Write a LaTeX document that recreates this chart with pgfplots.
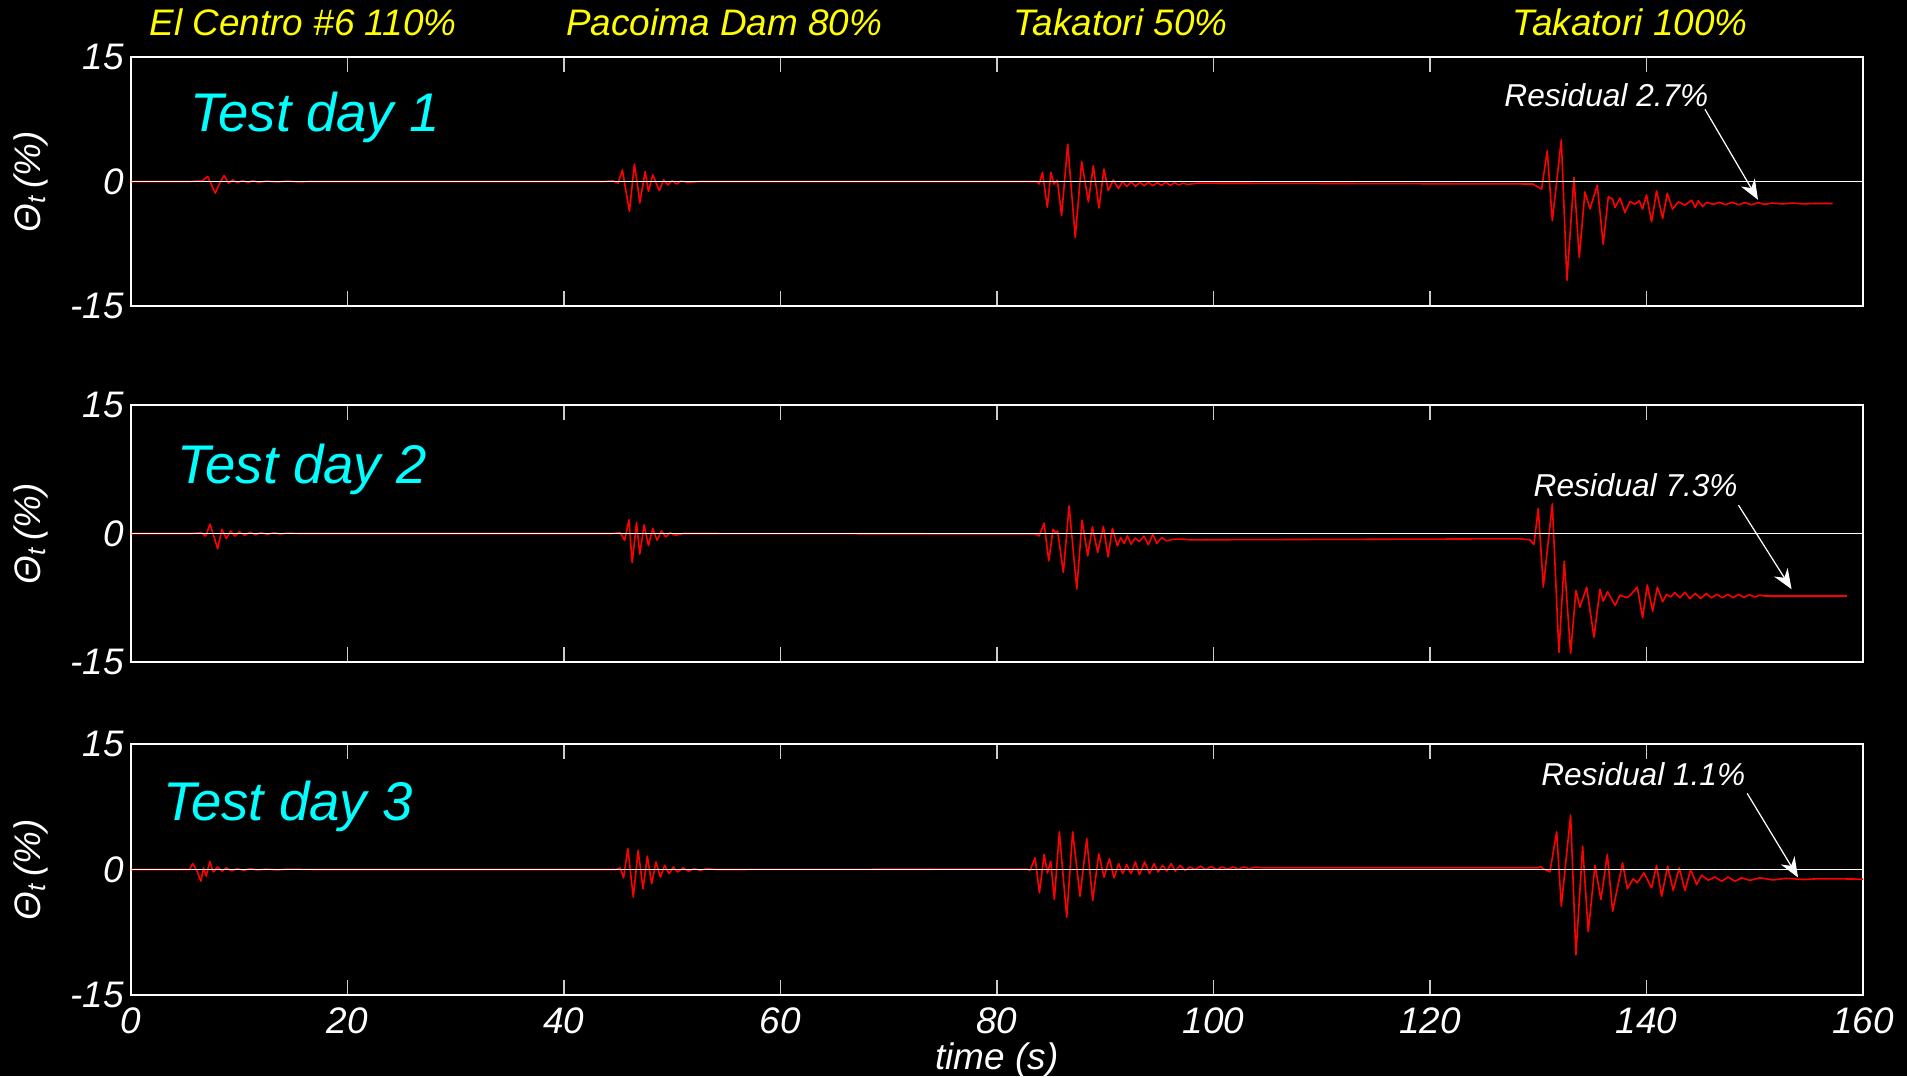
\documentclass[border=0pt]{standalone}
\usepackage{fontspec}
\setmainfont{Liberation Sans}
\usepackage{pgfplots}
\pgfplotsset{compat=1.18}
\usetikzlibrary{arrows.meta}
\definecolor{mcyan}{RGB}{0,255,255}
\definecolor{myellow}{RGB}{255,255,0}
\definecolor{mred}{RGB}{255,0,0}

\pgfplotsset{
  mystyle/.style={
    scale only axis, width=173.2mm,
    xmin=0, xmax=160, ymin=-15, ymax=15,
    axis line style={white, line width=0.5pt},
    xtick={0,20,40,60,80,100,120,140,160}, ytick={-15,0,15},
    yticklabels={-15,0,15},
    tick align=inside,
    tick style={white!80!black, line width=0.35pt},
    xtick style={/pgfplots/major tick length=1.5mm},
    ytick style={/pgfplots/major tick length=0.5mm},
    every tick label/.append style={font=\fontsize{10.5}{12}\selectfont\itshape, text=white},
    yticklabel style={xshift=0.5mm},
    ylabel={Θ\textsubscript{t}\,(\%)},
    ylabel style={at={(axis description cs:-0.058,0.5)}, anchor=center, font=\fontsize{10.5}{12}\selectfont\itshape, text=white},
    clip=false,
    anchor=south west,
  },
}
\tikzset{
  sig/.style={mred, line width=0.45pt, line join=round, sharp plot},
  zl/.style={white, line width=0.4pt},
  tday/.style={text=mcyan, font=\fontsize{15.5}{18}\selectfont\itshape, anchor=base west, inner sep=0pt},
  resid/.style={text=white, font=\fontsize{9}{11}\selectfont\itshape, anchor=base, inner sep=0pt},
  arr/.style={white, line width=0.35pt, -{Stealth[length=2mm, width=1.6mm]}},
  ttl/.style={text=myellow, font=\fontsize{10.5}{12}\selectfont\itshape},
}

\begin{document}
\begin{tikzpicture}
\useasboundingbox[fill=black] (0,0) rectangle (190.7mm,107.6mm);

% ---------------- Test day 1 ----------------
\begin{axis}[mystyle, at={(13.1mm,77.0mm)}, height=24.9mm, xticklabels={}]
\addplot[sig] coordinates {
(0,0)(5.4,0)(6.6,0.1)(7.08,0.6)(7.4,-0.3)(7.78,-1.4)(8.2,-0.2)(8.6,0.72)(9.0,-0.2)(9.4,0.2)(9.8,-0.15)(10.3,0.1)(10.8,-0.1)(11.3,0.1)(11.8,-0.1)(12.5,0.05)(13.5,-0.05)(14.5,0.05)(15.5,-0.05)(16.4,0)(43.8,0)(44.5,0.1)(45.0,-0.2)(45.4,1.4)(45.7,-1.0)(46.05,-3.6)(46.5,2.1)(46.8,-0.5)(47.0,-2.6)(47.5,1.2)(47.8,-1.2)(48.2,0.8)(48.8,-1.1)(49.2,0.2)(49.6,-0.4)(50.0,0.1)(50.4,-0.3)(50.8,0.05)(51.5,-0.1)(52.5,0)
(83.7,0)(83.9,-0.3)(84.2,1.1)(84.65,-3.1)(84.98,1.1)(85.26,-0.3)(85.57,0.15)(85.97,-4.1)(86.53,4.5)(87.23,-6.75)(87.82,2.4)(88.44,-2.45)(88.9,1.9)(89.42,-3.2)(89.88,1.5)(90.28,-1.1)(90.75,0.2)(91.21,-0.85)(91.6,0.0)(92.0,-0.6)(92.4,-0.05)(92.8,-0.6)(93.2,-0.1)(93.6,-0.5)(94.0,-0.1)(94.4,-0.5)(94.8,-0.15)(95.2,-0.45)(95.6,-0.1)(96.0,-0.45)(96.4,-0.15)(96.8,-0.4)(97.2,-0.2)(97.6,-0.35)(98.5,-0.2)(129.5,-0.3)
(130.31,-0.92)(130.83,3.7)(131.3,-4.74)(132.13,5.0)(132.65,-11.9)(133.3,0.48)(133.79,-9.16)(134.31,-1.25)(134.78,-3.3)(135.45,-0.44)(136.0,-7.55)(136.47,-1.85)(136.87,-2.13)(137.09,-3.13)(137.55,-2.0)(138.01,-3.74)(138.47,-2.41)(138.93,-2.73)(139.33,-2.33)(139.64,-3.33)(140.0,-1.61)(140.47,-4.86)(140.93,-1.12)(141.49,-4.46)(141.92,-1.41)(142.41,-3.33)(142.94,-2.45)(143.55,-2.85)(144.17,-2.25)(144.5,-3.13)(144.78,-2.33)(145.18,-3.0)(145.55,-2.53)(146.2,-2.75)(146.7,-2.5)(147.3,-2.8)(147.9,-2.5)(148.5,-2.8)(149.1,-2.55)(149.7,-2.8)(150.3,-2.55)(150.9,-2.75)(151.6,-2.6)(152.5,-2.7)(153.5,-2.6)(154.5,-2.7)(155.5,-2.65)(157.2,-2.65)
};
\addplot[zl] coordinates {(0,0)(160,0)};
\node[ttl] at (axis cs:15.9,19.2) {El Centro \#6 110\%};
\node[ttl] at (axis cs:54.8,19.2) {Pacoima Dam 80\%};
\node[ttl] at (axis cs:91.4,19.2) {Takatori 50\%};
\node[ttl] at (axis cs:138.5,19.2) {Takatori 100\%};
\node[tday] at (axis cs:5.4,6.0) {Test day 1};
\node[resid] at (axis cs:136.3,9.0) {Residual 2.7\%};
\draw[arr] (axis cs:145.4,8.7) -- (axis cs:150.3,-2.2);
\end{axis}

% ---------------- Test day 2 ----------------
\begin{axis}[mystyle, at={(13.1mm,41.4mm)}, height=25.7mm, xticklabels={}]
\addplot[sig] coordinates {
(0,0)(5.6,0)(6.5,0.1)(6.9,-0.3)(7.3,1.1)(7.7,-0.5)(8.0,-1.8)(8.4,0.5)(8.8,-0.6)(9.2,0.3)(9.6,-0.3)(10.0,0.2)(10.5,-0.2)(11.0,0.15)(11.5,-0.15)(12.0,0.1)(12.6,-0.1)(13.2,0.1)(13.8,-0.05)(14.5,0.05)(15.5,0)(17,0)(44.5,0)(45.2,0.1)(45.6,-0.8)(46.0,1.6)(46.3,-3.4)(46.7,1.3)(47.0,-2.4)(47.4,1.0)(47.8,-1.4)(48.2,0.6)(48.6,-0.8)(49.0,0.3)(49.4,-0.4)(49.8,0.1)(50.3,-0.2)(51,0)
(83.5,-0.05)(83.9,-0.27)(84.35,1.2)(84.78,-3.2)(85.18,0.5)(85.4,0.1)(85.6,0.3)(86.13,-4.55)(86.66,3.23)(87.37,-6.5)(87.86,1.56)(88.38,-2.6)(88.81,0.78)(89.3,-2.2)(89.83,0.82)(90.26,-2.72)(90.66,0.6)(91.12,-1.44)(91.43,-0.47)(91.74,-1.17)(92.05,-0.27)(92.38,-1.25)(92.75,-0.55)(93.15,-0.93)(93.58,-0.3)(93.98,-1.32)(94.39,-0.08)(94.76,-1.17)(95.22,-0.47)(95.68,-0.86)(96.3,-0.66)(97.2,-0.66)(97.8,-0.74)(128.3,-0.62)
(129.23,-0.74)(129.6,-1.28)(130.0,2.92)(130.47,-6.26)(131.3,3.46)(131.91,-13.9)(132.4,-3.23)(132.99,-14.0)(133.48,-6.65)(133.85,-8.6)(134.47,-6.26)(135.15,-12.1)(135.7,-6.5)(136.0,-7.9)(136.4,-6.8)(137.1,-8.4)(137.55,-7.2)(138.2,-7.5)(138.5,-7.2)(139.15,-6.26)(139.64,-9.84)(140.07,-6.0)(140.57,-9.06)(141.0,-6.26)(141.49,-7.97)(141.86,-7.1)(142.23,-7.4)(142.63,-6.9)(143.09,-7.5)(143.55,-6.85)(144.0,-7.6)(144.5,-7.0)(145.0,-7.6)(145.5,-7.0)(146.0,-7.5)(146.5,-7.1)(147.0,-7.5)(147.5,-7.1)(148.0,-7.5)(148.5,-7.1)(149.0,-7.45)(149.5,-7.15)(150.0,-7.4)(150.5,-7.2)(150.94,-7.3)(158.5,-7.3)
};
\addplot[zl] coordinates {(0,0)(160,0)};
\node[tday] at (axis cs:4.2,5.8) {Test day 2};
\node[resid] at (axis cs:139.0,4.3) {Residual 7.3\%};
\draw[arr] (axis cs:148.5,3.3) -- (axis cs:153.4,-6.5);
\end{axis}

% ---------------- Test day 3 ----------------
\begin{axis}[mystyle, at={(13.1mm,8.1mm)}, height=25.1mm,
  xticklabels={0,20,40,60,80,100,120,140,160},
  xlabel={time (s)},
  xlabel style={font=\fontsize{10.5}{12}\selectfont\itshape, text=white, yshift=1.5mm}]
\addplot[sig] coordinates {
(0,0)(5.42,0)(5.7,0.7)(6.1,-0.2)(6.46,-1.4)(6.7,0.2)(6.95,-0.8)(7.28,0.95)(7.6,-0.3)(8.0,0.3)(8.4,-0.2)(8.8,0.2)(9.3,-0.15)(9.8,0.1)(10.4,-0.1)(11.0,0.1)(11.7,-0.05)(12.5,0.05)(13.5,-0.05)(14.5,0.05)(16.9,0)(44.8,0)(45.2,0.2)(45.5,-1.0)(45.9,2.5)(46.4,-3.3)(46.85,2.3)(47.3,-2.3)(47.7,1.6)(48.1,-1.7)(48.5,0.9)(48.9,-0.9)(49.3,0.5)(49.7,-0.5)(50.1,0.3)(50.5,-0.3)(51.0,0.2)(51.5,-0.2)(52.0,0.1)(52.6,-0.1)(53.2,0.1)(54.0,0)
(82.8,0.05)(83.05,-0.1)(83.52,1.4)(83.92,-2.8)(84.35,1.8)(84.66,-0.4)(84.96,1.0)(85.3,-3.6)(85.76,4.5)(86.44,-5.7)(86.99,4.5)(87.67,-3.2)(88.29,3.7)(88.84,-3.7)(89.4,1.87)(89.89,-0.92)(90.38,1.3)(90.81,-1.0)(91.24,0.7)(91.61,-0.5)(91.98,0.6)(92.38,-0.5)(92.78,0.9)(93.15,-0.6)(93.65,0.9)(94.08,-0.5)(94.51,0.7)(94.88,-0.3)(95.31,0.5)(95.68,-0.2)(96.08,0.7)(96.48,-0.2)(96.91,0.5)(97.37,-0.1)(97.83,0.3)(98.3,0.0)(98.8,0.4)(99.3,0.0)(99.8,0.35)(100.3,0.0)(100.8,0.3)(101.3,0.05)(101.8,0.3)(102.3,0.05)(102.8,0.3)(103.3,0.1)(103.8,0.25)(104.7,0.2)(130.0,0.2)
(130.22,0.36)(130.47,0.08)(131.08,-0.28)(131.7,4.5)(132.13,-4.4)(132.99,6.5)(133.48,-10.2)(134.1,2.8)(134.62,-7.45)(135.24,0.5)(135.79,-3.6)(136.38,1.8)(136.87,-5.0)(137.79,0.8)(138.23,-2.3)(138.78,-1.1)(139.15,-1.6)(139.76,-0.4)(140.47,-2.2)(140.93,0.5)(141.4,-3.2)(141.95,0.4)(142.47,-2.5)(143.03,0.2)(143.55,-2.5)(144.08,0)(144.63,-1.8)(145.09,-0.68)(145.71,-1.27)(146.32,-0.9)(146.94,-1.4)(147.56,-0.9)(148.17,-1.4)(148.79,-1.0)(149.56,-1.3)(150.48,-1.0)(151.71,-1.25)(152.9,-1.05)(154.5,-1.2)(156.0,-1.1)(160,-1.15)
};
\addplot[zl] coordinates {(0,0)(160,0)};
\node[tday] at (axis cs:2.9,5.9) {Test day 3};
\node[resid] at (axis cs:139.7,10.0) {Residual 1.1\%};
\draw[arr] (axis cs:149.3,9.1) -- (axis cs:154.0,-0.95);
\end{axis}
\end{tikzpicture}
\end{document}
